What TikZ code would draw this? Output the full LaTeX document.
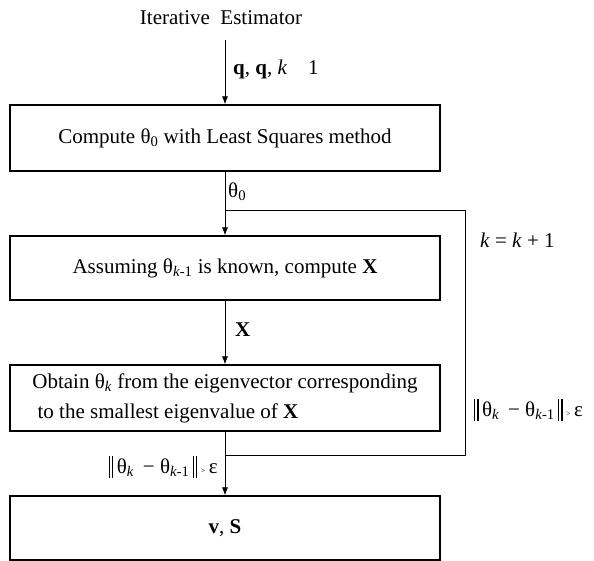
\documentclass[tikz,border=0pt]{standalone}
\usepackage{tikz}
\usepackage{amsmath}
\usepackage{xcolor}
\usepackage{fontspec}
\setmainfont{Liberation Serif}
\usetikzlibrary{arrows.meta}

\tikzset{
  box/.style={draw, line width=1.4pt, minimum width=430pt, minimum height=66pt, inner sep=0pt},
  arr/.style={line width=0.7pt, -{Latex[length=8pt,width=6pt]}},
  loopline/.style={line width=0.7pt},
  lbl/.style={inner sep=0pt}
}
\newcommand{\thk}[1]{θ\textsubscript{#1}}
\newcommand{\nrm}{\raisebox{-5pt}{\rule{1.2pt}{22pt}\hspace{2pt}\rule{1.2pt}{22pt}}}

\begin{document}
\begin{tikzpicture}[x=1pt, y=-1pt, font=\fontsize{21}{30}\selectfont]
            \useasboundingbox (0,0) rectangle (594,561);
            % blocks
            \node[lbl] (title) at (221,18) {Iterative\ \ Estimator};
            \node[box] (b1) at (225,138) {Compute \thk{0} with Least Squares method};
            \node[box, minimum height=64pt] (b2) at (225,268) {Assuming \thk{\textit{k}-1} is known, compute \textbf{X}};
            \node[box, align=left] (b3) at (225,398) {Obtain \thk{\textit{k}} from the eigenvector corresponding\\ \ to the smallest eigenvalue of \textbf{X}};
            \node[box, minimum height=64pt] (b4) at (225,528) {\textbf{v}, \textbf{S}};
            \coordinate (in) at (225,40);
            \coordinate (jup) at (225,210);
            \coordinate (jdn) at (225,455);
            % connectors
            \draw[arr] (in) -- (b1);
            \draw[arr] (b1) -- (b2);
            \draw[arr] (b2) -- (b3);
            \draw[arr] (b3) -- (b4);
            \draw[loopline] (jdn) -| ([xshift=25pt]b2.east) |- (jup);
            % labels
            \node[lbl, anchor=west] (lq) at (233,69) {\textbf{q}, \textbf{q}, \textit{k}\quad 1};
            \node[lbl, anchor=west] (lt) at (228,192) {\thk{0}};
            \node[lbl, anchor=west] (lx) at (235,330) {\textbf{X}};
            \node[lbl, anchor=west] (lk) at (480,240) {\textit{k} = \textit{k} + 1};
            \node[lbl, anchor=west] (lr) at (474,410) {\nrm\,\thk{\textit{k}}\, − \thk{\textit{k}-1}\,\nrm\,{\footnotesize >}\,ε};
            \node[lbl, anchor=east] (ll) at (218,467) {\nrm\,\thk{\textit{k}}\, − \thk{\textit{k}-1}\,\nrm\,{\footnotesize >}\,ε};
        \end{tikzpicture}
\end{document}
